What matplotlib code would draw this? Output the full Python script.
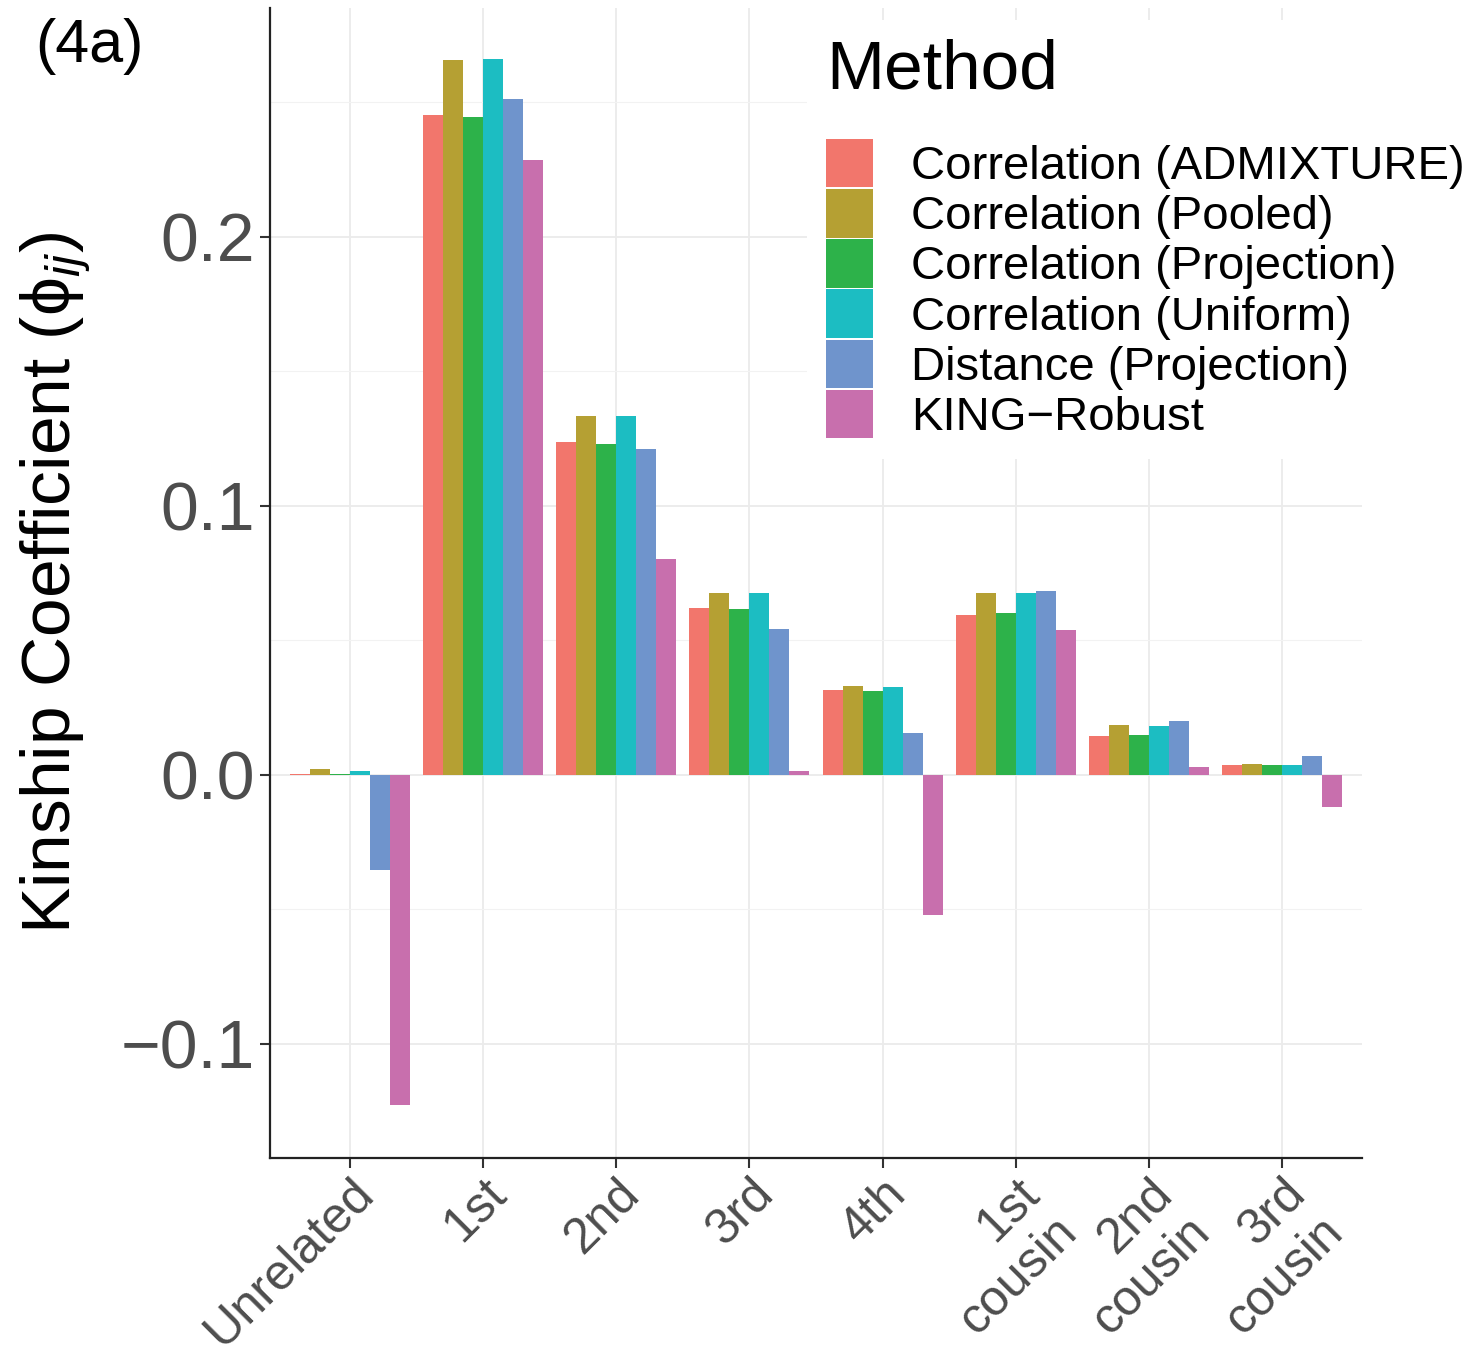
import numpy as np
import matplotlib
matplotlib.use("Agg")
import matplotlib.pyplot as plt

plt.rcParams['font.family'] = ['Liberation Sans', 'DejaVu Sans']
plt.rcParams['mathtext.fontset'] = 'custom'
plt.rcParams['mathtext.rm'] = 'Liberation Sans'
plt.rcParams['mathtext.it'] = 'Liberation Sans:italic'

# relationship categories
categories = ['Unrelated', '1st', '2nd', '3rd', '4th',
              '1st\ncousin', '2nd\ncousin', '3rd\ncousin']
methods = ['Correlation (ADMIXTURE)', 'Correlation (Pooled)',
           'Correlation (Projection)', 'Correlation (Uniform)',
           'Distance (Projection)', 'KING\u2212Robust']
colors = ['#F2766C', '#B5A033', '#2DB24A', '#1CBDC2', '#6F94CC', '#C86FAD']

# mean kinship per method, one list per method
admixture  = [0.0005, 0.2454, 0.1238, 0.0621, 0.0316, 0.0595, 0.0145, 0.0037]
pooled     = [0.0022, 0.2658, 0.1335, 0.0677, 0.0331, 0.0677, 0.0186, 0.0041]
projection = [0.0003, 0.2446, 0.1230, 0.0617, 0.0312, 0.0602, 0.0149, 0.0037]
uniform    = [0.0015, 0.2662, 0.1335, 0.0677, 0.0327, 0.0677, 0.0182, 0.0037]
distance   = [-0.0353, 0.2513, 0.1212, 0.0543, 0.0156, 0.0684, 0.0201, 0.0071]
king       = [-0.1227, 0.2286, 0.0803, 0.0015, -0.0520, 0.0539, 0.0030, -0.0119]
series = [admixture, pooled, projection, uniform, distance, king]

yticks = [-0.1, 0.0, 0.1, 0.2]
ytick_labels = ['\u22120.1', '0.0', '0.1', '0.2']

fig = plt.figure(figsize=(14.71, 13.54), dpi=100)
ax = fig.add_axes([270/1471, 1 - 1158/1354, 1092/1471, 1150/1354])

x = np.arange(len(categories))
w = 0.15
for i, (vals, c, m) in enumerate(zip(series, colors, methods)):
    ax.bar(x + (i - 2.5) * w, vals, width=w, color=c, label=m, zorder=3)

ax.set_xlim(-0.6, len(categories) - 0.4)
ax.set_ylim(-0.1424, 0.285)
ax.set_yticks(yticks)
ax.set_yticklabels(ytick_labels)
ax.set_yticks([-0.05, 0.05, 0.15, 0.25], minor=True)
ax.set_xticks(x)
ax.set_xticklabels(categories, rotation=45, ha='right', va='top',
                   rotation_mode='anchor', multialignment='right')

ax.grid(True, which='major', color='#EBEBEB', linewidth=1.3, zorder=0)
ax.grid(True, which='minor', axis='y', color='#F2F2F2', linewidth=0.8, zorder=0)
ax.set_axisbelow(True)

for s in ['top', 'right']:
    ax.spines[s].set_visible(False)
for s in ['left', 'bottom']:
    ax.spines[s].set_linewidth(1.6)
    ax.spines[s].set_color('#222222')

ax.tick_params(axis='y', which='major', labelsize=49, labelcolor='#4D4D4D',
               length=7, width=1.5, color='#333333', pad=4)
ax.tick_params(axis='x', which='major', labelsize=36, labelcolor='#4D4D4D',
               length=7, width=1.5, color='#333333', pad=2)
ax.tick_params(which='minor', length=0)

ax.set_ylabel(r'Kinship Coefficient ($\mathrm{\phi}_{ij}$)', fontsize=50,
              labelpad=20)

leg = ax.legend(title='Method', loc='upper left',
                bbox_to_anchor=(807/1471, 1 - 20/1354),
                bbox_transform=fig.transFigure,
                fontsize=34, title_fontsize=50, frameon=True,
                framealpha=1, edgecolor='white', fancybox=False,
                handlelength=1.0, handleheight=1.2, labelspacing=0.0,
                handletextpad=0.8, borderpad=0.4, borderaxespad=0,
                alignment='left')
leg.get_frame().set_linewidth(0)
leg.set_zorder(5)
leg._legend_box.sep = 26

fig.text(35/1471, 1 - 18/1354, '(4a)', fontsize=44, ha='left', va='top')

fig.savefig('out.png', dpi=100)
